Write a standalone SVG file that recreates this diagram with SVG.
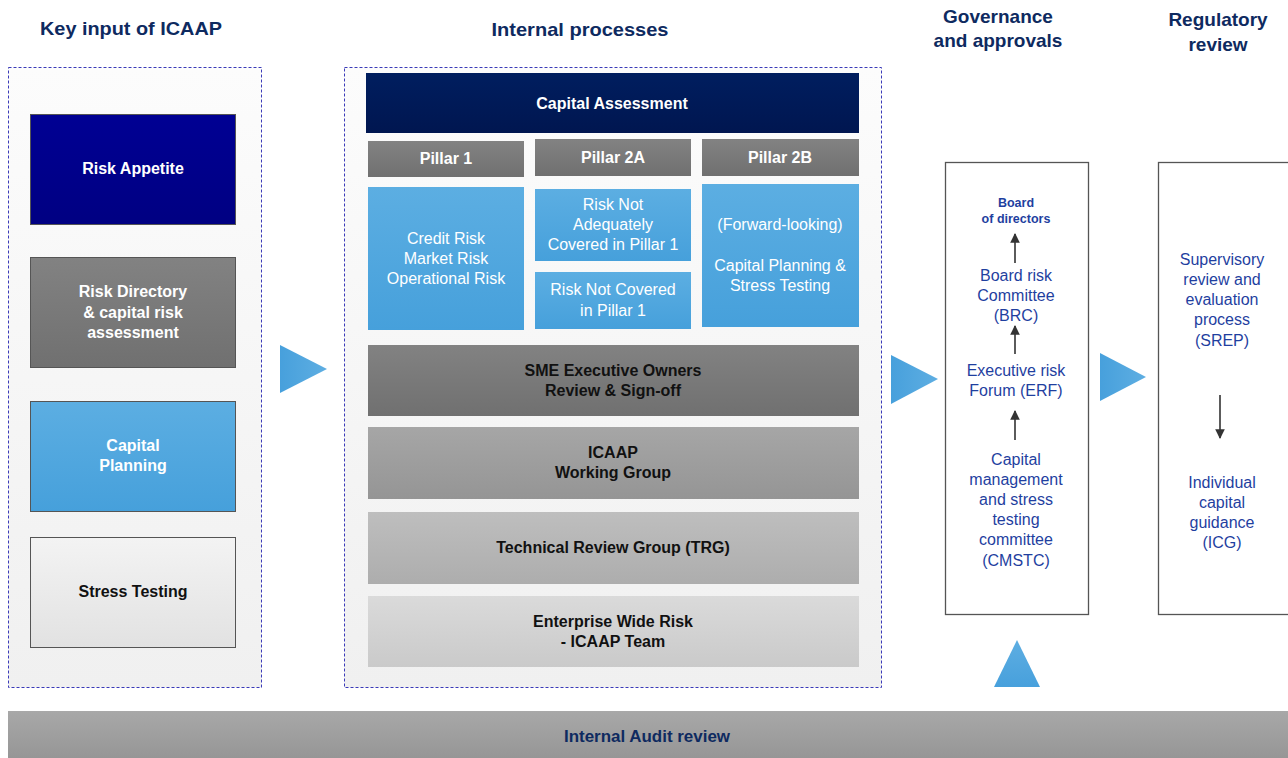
<svg xmlns="http://www.w3.org/2000/svg" width="1288" height="758" viewBox="0 0 1288 758">
<defs>
<linearGradient id="gPanel" x1="0" y1="0" x2="0" y2="1"><stop offset="0" stop-color="#fcfcfc"/><stop offset="1" stop-color="#f0f0f0"/></linearGradient>
<linearGradient id="gNavy" x1="0" y1="0" x2="0" y2="1"><stop offset="0" stop-color="#000093"/><stop offset="1" stop-color="#000082"/></linearGradient>
<linearGradient id="gDark" x1="0" y1="0" x2="0" y2="1"><stop offset="0" stop-color="#001e5f"/><stop offset="1" stop-color="#001650"/></linearGradient>
<linearGradient id="gG1" x1="0" y1="0" x2="0" y2="1"><stop offset="0" stop-color="#828282"/><stop offset="1" stop-color="#707070"/></linearGradient>
<linearGradient id="gG2" x1="0" y1="0" x2="0" y2="1"><stop offset="0" stop-color="#a6a6a6"/><stop offset="1" stop-color="#959595"/></linearGradient>
<linearGradient id="gG3" x1="0" y1="0" x2="0" y2="1"><stop offset="0" stop-color="#bebebe"/><stop offset="1" stop-color="#adadad"/></linearGradient>
<linearGradient id="gG4" x1="0" y1="0" x2="0" y2="1"><stop offset="0" stop-color="#dadada"/><stop offset="1" stop-color="#cacaca"/></linearGradient>
<linearGradient id="gLight" x1="0" y1="0" x2="0" y2="1"><stop offset="0" stop-color="#f3f3f3"/><stop offset="1" stop-color="#e2e2e2"/></linearGradient>
<linearGradient id="gBlue" x1="0" y1="0" x2="0" y2="1"><stop offset="0" stop-color="#5caee2"/><stop offset="1" stop-color="#46a0db"/></linearGradient>
<linearGradient id="gTri" x1="0" y1="0" x2="1" y2="0"><stop offset="0" stop-color="#47a0dc"/><stop offset="1" stop-color="#5eaee2"/></linearGradient>
<linearGradient id="gTriV" x1="0" y1="0" x2="0" y2="1"><stop offset="0" stop-color="#5eaee2"/><stop offset="1" stop-color="#47a0dc"/></linearGradient>
<linearGradient id="gBar" x1="0" y1="0" x2="0" y2="1"><stop offset="0" stop-color="#a8a8a8"/><stop offset="1" stop-color="#969696"/></linearGradient>
<marker id="ah" viewBox="0 0 10 10" refX="9" refY="5" markerWidth="6.5" markerHeight="6" orient="auto" markerUnits="strokeWidth"><path d="M0,0 L10,5 L0,10 z" fill="#333"/></marker>
</defs>
<style>
text{font-family:"Liberation Sans",Arial,sans-serif;text-anchor:middle}
.hd{font-size:19px;font-weight:bold;fill:#0e2a60}
.bw{font-size:16px;font-weight:bold;fill:#ffffff}
.nw{font-size:16px;fill:#ffffff}
.bk{font-size:16px;font-weight:bold;fill:#111111}
.bl{font-size:16px;fill:#1f3f9f}
.blb{font-size:12.5px;font-weight:bold;fill:#1f3f9f}
.panel{fill:url(#gPanel);stroke:#3a3ab8;stroke-width:1;stroke-dasharray:3 2}
.box{stroke:#555;stroke-width:1}
.wbox{fill:#ffffff;stroke:#555;stroke-width:1.3}
.conn{stroke:#333;stroke-width:1.6;fill:none;marker-end:url(#ah)}
</style>
<g id="headers">
<text class="hd" x="131" y="35" textLength="182" lengthAdjust="spacingAndGlyphs">Key input of ICAAP</text>
<text class="hd" x="580" y="36" textLength="177" lengthAdjust="spacingAndGlyphs">Internal processes</text>
<text class="hd" x="998" y="23">Governance</text>
<text class="hd" x="998" y="47">and approvals</text>
<text class="hd" x="1218" y="26">Regulatory</text>
<text class="hd" x="1218" y="51">review</text>
</g>
<g id="panel-key-input"><rect class="panel" x="8.5" y="67.5" width="253" height="620"/></g>
<g id="risk-appetite"><rect class="box" x="30.5" y="114.5" width="205" height="110" fill="url(#gNavy)"/><text class="bw" x="133" y="174">Risk Appetite</text></g>
<g id="risk-directory"><rect class="box" x="30.5" y="257.5" width="205" height="110" fill="url(#gG1)"/><text class="bw" x="133" y="297">Risk Directory</text><text class="bw" x="133" y="318">&amp; capital risk</text><text class="bw" x="133" y="338">assessment</text></g>
<g id="capital-planning"><rect class="box" x="30.5" y="401.5" width="205" height="110" fill="url(#gBlue)"/><text class="bw" x="133" y="451">Capital</text><text class="bw" x="133" y="471">Planning</text></g>
<g id="stress-testing"><rect class="box" x="30.5" y="537.5" width="205" height="110" fill="url(#gLight)"/><text class="bk" x="133" y="597">Stress Testing</text></g>
<g id="panel-internal"><rect class="panel" x="344.5" y="67.5" width="537" height="620"/></g>
<g id="capital-assessment"><rect x="366" y="73" width="493" height="60" fill="url(#gDark)"/><text class="bw" x="612" y="109">Capital Assessment</text></g>
<g id="pillar1-head"><rect x="368" y="141" width="156" height="36" fill="url(#gG1)"/><text class="bw" x="446" y="164">Pillar 1</text></g>
<g id="pillar2a-head"><rect x="535" y="139" width="156" height="37" fill="url(#gG1)"/><text class="bw" x="613" y="163">Pillar 2A</text></g>
<g id="pillar2b-head"><rect x="702" y="139" width="157" height="37" fill="url(#gG1)"/><text class="bw" x="780" y="163">Pillar 2B</text></g>
<g id="pillar1-body"><rect x="368" y="187" width="156" height="143" fill="url(#gBlue)"/><text class="nw" x="446" y="244">Credit Risk</text><text class="nw" x="446" y="264">Market Risk</text><text class="nw" x="446" y="284">Operational Risk</text></g>
<g id="pillar2a-top"><rect x="535" y="189" width="156" height="72" fill="url(#gBlue)"/><text class="nw" x="613" y="210">Risk Not</text><text class="nw" x="613" y="230">Adequately</text><text class="nw" x="613" y="250">Covered in Pillar 1</text></g>
<g id="pillar2a-bottom"><rect x="535" y="272" width="156" height="57" fill="url(#gBlue)"/><text class="nw" x="613" y="295">Risk Not Covered</text><text class="nw" x="613" y="316">in Pillar 1</text></g>
<g id="pillar2b-body"><rect x="702" y="184" width="157" height="143" fill="url(#gBlue)"/><text class="nw" x="780" y="230">(Forward-looking)</text><text class="nw" x="780" y="271">Capital Planning &amp;</text><text class="nw" x="780" y="291">Stress Testing</text></g>
<g id="sme"><rect x="368" y="345" width="491" height="71" fill="url(#gG1)"/><text class="bk" x="613" y="376">SME Executive Owners</text><text class="bk" x="613" y="396">Review &amp; Sign-off</text></g>
<g id="icaap-wg"><rect x="368" y="427" width="491" height="72" fill="url(#gG2)"/><text class="bk" x="613" y="458">ICAAP</text><text class="bk" x="613" y="478">Working Group</text></g>
<g id="trg"><rect x="368" y="512" width="491" height="72" fill="url(#gG3)"/><text class="bk" x="613" y="553">Technical Review Group (TRG)</text></g>
<g id="ewr"><rect x="368" y="596" width="491" height="71" fill="url(#gG4)"/><text class="bk" x="613" y="627">Enterprise Wide Risk</text><text class="bk" x="613" y="647">- ICAAP Team</text></g>
<g id="governance"><rect class="wbox" x="945.5" y="162.5" width="143" height="452"/>
<text class="blb" x="1016" y="207">Board</text><text class="blb" x="1016" y="223">of directors</text>
<text class="bl" x="1016" y="281">Board risk</text><text class="bl" x="1016" y="301">Committee</text><text class="bl" x="1016" y="321">(BRC)</text>
<text class="bl" x="1016" y="376">Executive risk</text><text class="bl" x="1016" y="396">Forum (ERF)</text>
<text class="bl" x="1016" y="465">Capital</text><text class="bl" x="1016" y="485">management</text><text class="bl" x="1016" y="505">and stress</text><text class="bl" x="1016" y="525">testing</text><text class="bl" x="1016" y="545">committee</text><text class="bl" x="1016" y="566">(CMSTC)</text>
</g>
<g id="regulatory"><rect class="wbox" x="1158.5" y="162.5" width="140" height="452"/>
<text class="bl" x="1222" y="265">Supervisory</text><text class="bl" x="1222" y="285">review and</text><text class="bl" x="1222" y="305">evaluation</text><text class="bl" x="1222" y="325">process</text><text class="bl" x="1222" y="346">(SREP)</text>
<text class="bl" x="1222" y="488">Individual</text><text class="bl" x="1222" y="508">capital</text><text class="bl" x="1222" y="528">guidance</text><text class="bl" x="1222" y="548">(ICG)</text>
</g>
<g id="internal-audit"><rect x="8" y="711" width="1280" height="47" fill="url(#gBar)"/><text x="647" y="742" style="font-size:16px;font-weight:bold;fill:#0e2a60" textLength="166" lengthAdjust="spacingAndGlyphs">Internal Audit review</text></g>
<g id="connectors">
<polygon points="280,345 327,369 280,393" fill="url(#gTri)"/>
<polygon points="891,355 938,379 891,404" fill="url(#gTri)"/>
<polygon points="1100,353 1146,377 1100,401" fill="url(#gTri)"/>
<polygon points="994,687 1040,687 1017,640" fill="url(#gTriV)"/>
<line class="conn" x1="1015" y1="263" x2="1015" y2="234"/>
<line class="conn" x1="1015" y1="354" x2="1015" y2="326"/>
<line class="conn" x1="1015" y1="440" x2="1015" y2="411"/>
<line class="conn" x1="1220" y1="395" x2="1220" y2="438"/>
</g>
</svg>
